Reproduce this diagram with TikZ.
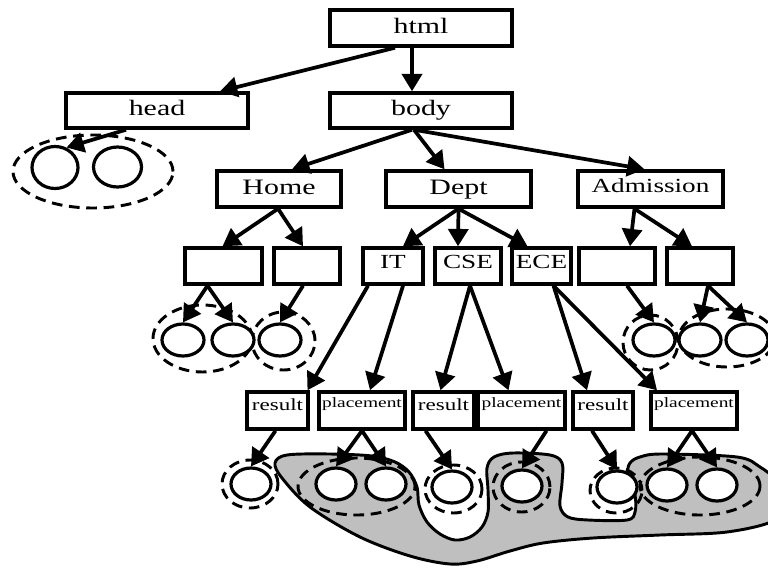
\documentclass[tikz,border=0pt]{standalone}
\usepackage{fontspec}
\setmainfont{Liberation Serif}
\usepackage{graphicx}
\usetikzlibrary{arrows.meta,shapes.geometric,calc}
\newcommand\wide[1]{\scalebox{1.36}[1]{#1}}
\begin{document}
\begin{tikzpicture}[x=0.75pt,y=-0.75pt,
  box/.style={draw, fill=white, line width=2.6pt, inner sep=0pt, minimum height=27pt},
  big/.style={font=\fontsize{16.5}{18}\selectfont, text height=11pt, text depth=3.5pt},
  adm/.style={font=\fontsize{15}{17}\selectfont, text height=10pt, text depth=5.5pt},
  mid/.style={font=\fontsize{15}{17}\selectfont, text height=10pt, text depth=7pt},
  res/.style={font=\fontsize{12.7}{14}\selectfont, text height=8pt, text depth=8pt, minimum height=27.75pt},
  plc/.style={font=\fontsize{10.7}{12}\selectfont, text height=6pt, text depth=11.2pt, minimum height=27.75pt},
  circ/.style={ellipse, draw, fill=white, line width=2.4pt, inner sep=0pt, minimum width=31.5pt, minimum height=24pt},
  circs/.style={circ, minimum width=30pt, minimum height=24pt},
  grp/.style={ellipse, draw, line width=2.2pt, inner sep=0pt, dash pattern=on 8pt off 5pt},
  arr/.style={line width=2.8pt, -{Triangle[length=13pt,width=15pt]}},
  blob/.style={draw, fill=black!25, line width=2.2pt}
]
\clip (0,0) rectangle (768,568);
\fill[white] (0,0) rectangle (768,568);

% grey region
\draw[blob] plot[smooth cycle, tension=0.55] coordinates {
 (275,463) (287,455) (330,454) (372,456) (395,462) (409,472) (417,487) (419,505)
 (427,522) (440,534) (455,540) (470,537) (482,527) (488,512) (488,490) (487,468)
 (494,457) (513,453) (550,455) (562,463) (562,483) (560,506) (568,517) (588,520)
 (627,520) (635,512) (635,495) (628,474) (630,463) (640,457) (662,454) (737,457)
 (760,467) (775,480) (778,500) (775,520) (727,532) (660,535) (593,538) (543,543)
 (510,551) (477,561) (450,564) (410,556) (360,537) (310,507) (282,478)};

% dashed groups
\node[grp, minimum width=120pt, minimum height=54.75pt] (gh) at (93,171.5) {};
\node[grp, minimum width=74.25pt, minimum height=50.25pt] (g12) at (202.5,338.5) {};
\node[grp, minimum width=47.25pt, minimum height=43.5pt] (g3) at (283.5,341) {};
\node[grp, minimum width=41.25pt, minimum height=41.25pt] (ga) at (650.5,342.5) {};
\node[grp, minimum width=72pt, minimum height=43.5pt] (gbc) at (727,338) {};
\node[grp, minimum width=42pt, minimum height=36pt] (gr1) at (250,484) {};
\node[grp, minimum width=87.75pt, minimum height=42.75pt] (gp1) at (356.5,486.5) {};
\node[grp, minimum width=42.75pt, minimum height=36pt] (gr2) at (453.5,489) {};
\node[grp, minimum width=42.75pt, minimum height=37.5pt] (gp2) at (521.5,487) {};
\node[grp, minimum width=39pt, minimum height=33.75pt] (gr3) at (616,490.5) {};
\node[grp, minimum width=90pt, minimum height=43.5pt] (gp3) at (700,486) {};

% circles
\node[circ, minimum width=34.5pt, minimum height=31.5pt] (h1) at (55,167.5) {};
\node[circ, minimum width=36pt, minimum height=30pt] (h2) at (117.5,167) {};
\node[circ] (c1) at (183,340) {};
\node[circ] (c2) at (233,340) {};
\node[circ] (c3) at (280,340) {};
\node[circ] (ca) at (654,340) {};
\node[circ] (cb) at (700,340) {};
\node[circ] (cc) at (747,340) {};
\node[circs] (r1) at (251,484) {};
\node[circs] (p1a) at (336,484) {};
\node[circs] (p1b) at (386,484) {};
\node[circs] (r2) at (452,487) {};
\node[circs] (p2) at (522,486) {};
\node[circs] (r3) at (617,487) {};
\node[circs] (p3a) at (667,485) {};
\node[circs] (p3b) at (717,485) {};

% boxes
\node[box, big, minimum width=136.5pt] (html) at (421,28) {\wide{html}};
\node[box, big, minimum width=136.5pt, minimum height=26.25pt] (head) at (157,110.5) {\wide{head}};
\node[box, big, minimum width=136.5pt, minimum height=26.25pt] (body) at (421,110.5) {\wide{body}};
\node[box, big, minimum width=93pt] (home) at (279,189) {\wide{Home}};
\node[box, big, minimum width=108.75pt] (dept) at (458.5,189) {\wide{Dept}};
\node[box, adm, minimum width=108.75pt] (adm) at (650.5,189) {\wide{Admission}};

\node[box, minimum width=57.75pt] (b1) at (223.5,266) {};
\node[box, minimum width=49.5pt] (b2) at (307,266) {};
\node[box, mid, minimum width=45pt] (it) at (393,266) {\wide{IT}};
\node[box, mid, minimum width=49.5pt] (cse) at (468,266) {\wide{CSE}};
\node[box, mid, minimum width=44.25pt] (ece) at (541.5,266) {\wide{ECE}};
\node[box, minimum width=57pt] (b3) at (617,266) {};
\node[box, minimum width=49.5pt] (b4) at (700,266) {};

\node[box, res, minimum width=45.75pt] (res1) at (277.5,410.5) {\wide{result}};
\node[box, plc, minimum width=64.5pt] (pl1) at (362,410.5) {\wide{placement}};
\node[box, res, minimum width=45.75pt] (res2) at (443.5,410.5) {\wide{result}};
\node[box, plc, minimum width=65.25pt] (pl2) at (521.5,410.5) {\wide{placement}};
\node[box, res, minimum width=45pt] (res3) at (603,410.5) {\wide{result}};
\node[box, plc, minimum width=64.5pt] (pl3) at (694,410.5) {\wide{placement}};

% connectors
\draw[arr] ($(html.south)+(-26,0)$) -- ($(head.north)+(63,0)$);
\draw[arr] ($(html.south)+(-9,0)$) -- ($(body.north)+(-9,0)$);
\draw[arr] ($(head.south)+(-31,0)$) -- (h1.60);
\draw[arr] ($(body.south)+(-9,0)$) -- ($(home.north)+(13,0)$);
\draw[arr] ($(body.south)+(-7,0)$) -- ($(dept.north)+(-14,0)$);
\draw[arr] ($(body.south)+(-7,0)$) -- ($(adm.north)+(-6,0)$);
\draw[arr] ($(home.south)+(-1,0)$) -- ($(b1.north)+(-1,0)$);
\draw[arr] ($(home.south)+(-1,0)$) -- ($(b2.north)+(-4,0)$);
\draw[arr] (dept.south) -- ($(it.north)+(10,0)$);
\draw[arr] (dept.south) -- ($(cse.north)+(-10,0)$);
\draw[arr] (dept.south) -- ($(ece.north)+(-14,0)$);
\draw[arr] ($(adm.south)+(-16,0)$) -- ($(b3.north)+(13,0)$);
\draw[arr] ($(adm.south)+(-16,0)$) -- ($(b4.north)+(-8,0)$);
\draw[arr] ($(b1.south)+(-16,0)$) -- (c1.north);
\draw[arr] ($(b1.south)+(-16,0)$) -- (c2.north);
\draw[arr] ($(b2.south)+(-4,0)$) -- (c3.north);
\draw[arr] ($(b3.south)+(10,0)$) -- (ca.north);
\draw[arr] ($(b4.south)+(8,0)$) -- (cb.north);
\draw[arr] ($(b4.south)+(8,0)$) -- (cc.north);
\draw[arr] ($(it.south)+(-25,0)$) -- ($(res1.north)+(30,0)$);
\draw[arr] ($(it.south)+(10,0)$) -- ($(pl1.north)+(8,0)$);
\draw[arr] ($(cse.south)+(2,0)$) -- ($(res2.north)+(-3,0)$);
\draw[arr] ($(cse.south)+(2,0)$) -- ($(pl2.north)+(-13,0)$);
\draw[arr] ($(ece.south)+(12,0)$) -- ($(res3.north)+(-16,0)$);
\draw[arr] ($(ece.south)+(12,0)$) -- ($(pl3.north)+(-37,0)$);
\draw[arr] ($(res1.south)+(-2,0)$) -- (r1.north);
\draw[arr] (pl1.south) -- (p1a.north);
\draw[arr] (pl1.south) -- (p1b.north);
\draw[arr] ($(res2.south)+(-18,0)$) -- (r2.north);
\draw[arr] ($(pl2.south)+(25,0)$) -- (p2.north);
\draw[arr] ($(res3.south)+(-11,0)$) -- (r3.north);
\draw[arr] ($(pl3.south)+(-2,0)$) -- (p3a.north);
\draw[arr] ($(pl3.south)+(-2,0)$) -- (p3b.north);
\end{tikzpicture}
\end{document}
